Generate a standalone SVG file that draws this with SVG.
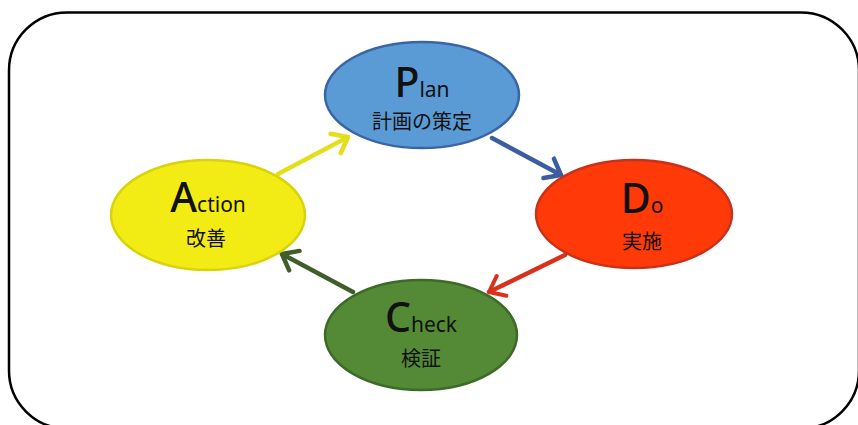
<svg xmlns="http://www.w3.org/2000/svg" width="858" height="425" viewBox="0 0 858 425">
  <defs>
    <marker id="head-yellow" viewBox="-20 -14 24 28" markerWidth="24" markerHeight="28" refX="0" refY="0" orient="auto" markerUnits="userSpaceOnUse">
      <path d="M-14 -11 L0 0 L-14 11" fill="none" stroke="#e4df1c" stroke-width="4.5" stroke-linecap="round" stroke-linejoin="round"/>
    </marker>
    <marker id="head-blue" viewBox="-20 -14 24 28" markerWidth="24" markerHeight="28" refX="0" refY="0" orient="auto" markerUnits="userSpaceOnUse">
      <path d="M-14 -11 L0 0 L-14 11" fill="none" stroke="#3b5f9e" stroke-width="4.5" stroke-linecap="round" stroke-linejoin="round"/>
    </marker>
    <marker id="head-red" viewBox="-20 -14 24 28" markerWidth="24" markerHeight="28" refX="0" refY="0" orient="auto" markerUnits="userSpaceOnUse">
      <path d="M-14 -11 L0 0 L-14 11" fill="none" stroke="#d8321c" stroke-width="4" stroke-linecap="round" stroke-linejoin="round"/>
    </marker>
    <marker id="head-green" viewBox="-20 -14 24 28" markerWidth="24" markerHeight="28" refX="0" refY="0" orient="auto" markerUnits="userSpaceOnUse">
      <path d="M-14 -11 L0 0 L-14 11" fill="none" stroke="#3f5e2c" stroke-width="4.5" stroke-linecap="round" stroke-linejoin="round"/>
    </marker>
  </defs>
  <style>
    .frame { fill: #ffffff; stroke: #000000; stroke-width: 2.5; }
    .node { stroke-width: 2.5; }
    .label { font-family: "Noto Sans", "Liberation Sans", "Noto Sans CJK JP", sans-serif; fill: #111111; text-anchor: middle; }
    .big { font-size: 41px; font-weight: 500; }
    .small { font-size: 21px; }
    .jp { font-family: "Noto Sans CJK JP", sans-serif; font-size: 20px; fill: #111111; text-anchor: middle; }
    .conn { fill: none; stroke-width: 4.5; stroke-linecap: round; }
  </style>

  <rect class="frame" x="9" y="12.5" width="850" height="416" rx="58" ry="58"/>

  <g id="connectors">
    <line class="conn" x1="278" y1="174" x2="348" y2="137" stroke="#e4df1c" marker-end="url(#head-yellow)"/>
    <line class="conn" x1="492" y1="138" x2="561" y2="175" stroke="#3b5f9e" marker-end="url(#head-blue)"/>
    <line class="conn" x1="565" y1="255" x2="489" y2="292" stroke="#d8321c" stroke-width="4" marker-end="url(#head-red)"/>
    <line class="conn" x1="353" y1="292" x2="282" y2="254" stroke="#3f5e2c" marker-end="url(#head-green)"/>
  </g>

  <g id="plan">
    <ellipse class="node" cx="422" cy="95" rx="97" ry="53" fill="#5b9bd5" stroke="#3a65a5"/>
    <text class="label" x="422" y="97"><tspan class="big">P</tspan><tspan class="small">lan</tspan></text>
    <text class="jp" x="422" y="129">計画の策定</text>
  </g>

  <g id="do">
    <ellipse class="node" cx="634" cy="214" rx="98" ry="54" fill="#ff3a08" stroke="#c8321a"/>
    <text class="label" x="642" y="213"><tspan class="big">D</tspan><tspan class="small">o</tspan></text>
    <text class="jp" x="642" y="249">実施</text>
  </g>

  <g id="check">
    <ellipse class="node" cx="421" cy="335" rx="96" ry="55" fill="#548a35" stroke="#3e6a28"/>
    <text class="label" x="421" y="332"><tspan class="big">C</tspan><tspan class="small">heck</tspan></text>
    <text class="jp" x="421" y="366">検証</text>
  </g>

  <g id="action">
    <ellipse class="node" cx="208" cy="215" rx="97" ry="55" fill="#f2ec14" stroke="#d9d20c"/>
    <text class="label" x="208" y="212"><tspan class="big">A</tspan><tspan class="small">ction</tspan></text>
    <text class="jp" x="206" y="246">改善</text>
  </g>
</svg>
